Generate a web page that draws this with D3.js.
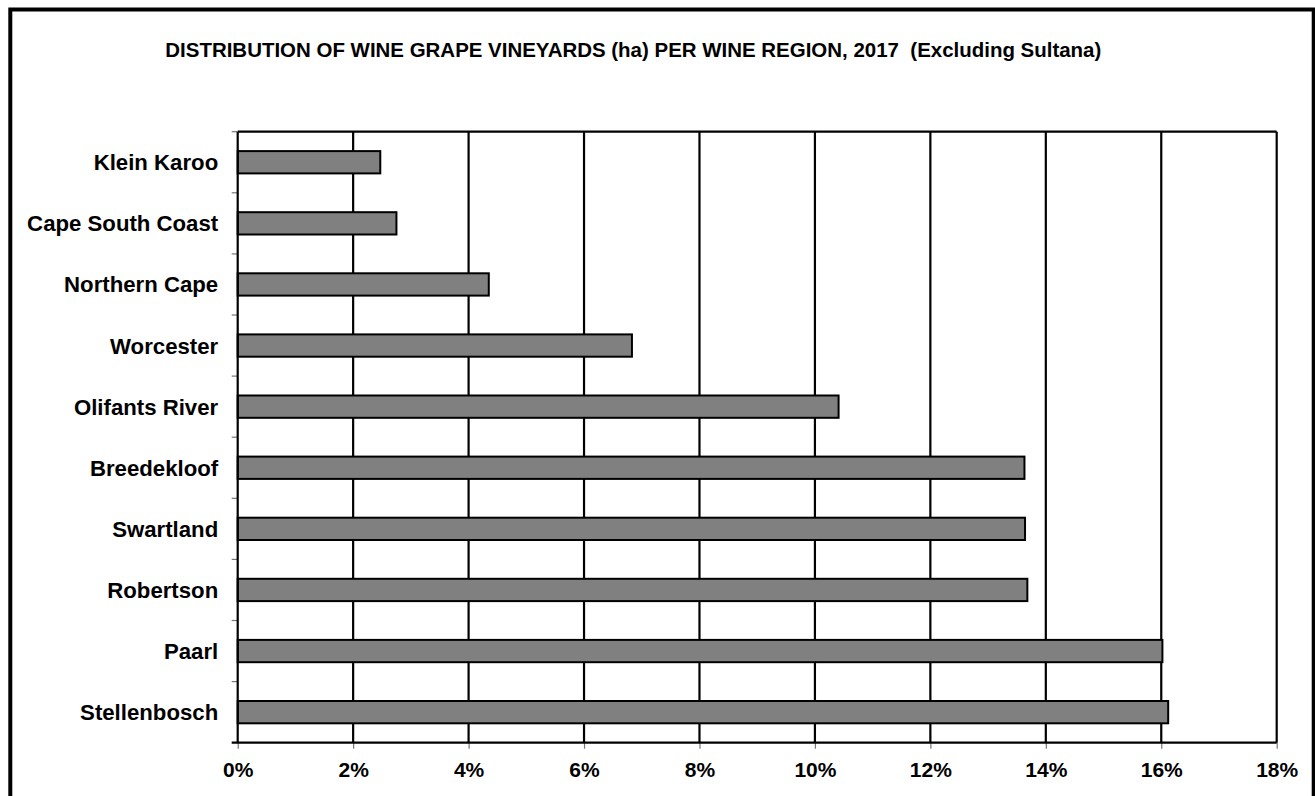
<!DOCTYPE html>
<html>
<head>
<meta charset="utf-8">
<script src="https://cdn.jsdelivr.net/npm/d3@7"></script>
<style>
  html, body { margin: 0; padding: 0; background: #fff; }
  svg { display: block; }
  text { font-family: "Liberation Sans", Arial, Helvetica, sans-serif; font-weight: bold; fill: #000; }
</style>
</head>
<body>
<svg id="chart" width="1315" height="796"></svg>
<script>
const titleText = "DISTRIBUTION OF WINE GRAPE VINEYARDS (ha) PER WINE REGION, 2017  (Excluding Sultana)";
const regions = ["Klein Karoo", "Cape South Coast", "Northern Cape", "Worcester", "Olifants River",
                 "Breedekloof", "Swartland", "Robertson", "Paarl", "Stellenbosch"];
const shares = [2.47, 2.75, 4.35, 6.83, 10.41, 13.63, 13.64, 13.68, 16.02, 16.12];
const xTicks = [0, 2, 4, 6, 8, 10, 12, 14, 16, 18];

(function () {
const svg = d3.select("#chart");
const pL = 237.7, pR = 1276.7, pT = 131.7, pB = 742.7;

// outer frame
svg.append("rect")
  .attr("x", 10.3).attr("y", 9.5)
  .attr("width", 1303.4).attr("height", 820)
  .attr("fill", "none").attr("stroke", "#000").attr("stroke-width", 4);

// title
svg.append("text")
  .attr("x", 633.3).attr("y", 56.7)
  .attr("text-anchor", "middle")
  .attr("font-size", 19.5)
  .attr("textLength", 936)
  .attr("lengthAdjust", "spacingAndGlyphs")
  .attr("xml:space", "preserve")
  .style("white-space", "pre")
  .text(titleText);

const x = d3.scaleLinear().domain([0, 18]).range([pL, pR]);
const y = d3.scaleBand().domain(regions).range([pT, pB]).paddingInner(0.635).paddingOuter(0.3175);
const yStep = d3.scaleBand().domain(regions).range([pT, pB]).padding(0);

// vertical gridlines
svg.append("g").selectAll("line")
  .data(xTicks.filter(d => d > 0 && d < 18))
  .join("line")
  .attr("x1", d => x(d)).attr("x2", d => x(d))
  .attr("y1", pT).attr("y2", pB)
  .attr("stroke", "#000").attr("stroke-width", 2.2);

// plot frame top & right
svg.append("line").attr("x1", pL).attr("x2", pR).attr("y1", pT).attr("y2", pT)
  .attr("stroke", "#000").attr("stroke-width", 2.2);
svg.append("line").attr("x1", pR).attr("x2", pR).attr("y1", pT).attr("y2", pB)
  .attr("stroke", "#000").attr("stroke-width", 2.2);

// bars
svg.append("g").selectAll("rect")
  .data(regions.map((r, i) => ({ r, v: shares[i] })))
  .join("rect")
  .attr("x", x(0))
  .attr("y", d => y(d.r))
  .attr("width", d => x(d.v) - x(0))
  .attr("height", y.bandwidth())
  .attr("fill", "#808080")
  .attr("stroke", "#000")
  .attr("stroke-width", 2);

// x axis
const xAxis = d3.axisBottom(x).tickValues(xTicks).tickFormat(d => d + "%").tickSize(6).tickPadding(14);
const gx = svg.append("g").attr("transform", `translate(0,${pB})`).call(xAxis);
gx.select(".domain").remove();
gx.selectAll(".tick line").attr("stroke", "#777").attr("stroke-width", 1.2);
gx.selectAll(".tick text").attr("font-size", 21).attr("dy", "0.68em")
  .style("font-family", '"Liberation Sans", Arial, sans-serif').style("font-weight", "bold");
svg.append("line").attr("x1", pL - 6).attr("x2", pR).attr("y1", pB).attr("y2", pB)
  .attr("stroke", "#000").attr("stroke-width", 2.2);

// y axis ticks at band boundaries
const boundaries = regions.map(r => yStep(r));
svg.append("g").selectAll("line")
  .data(boundaries)
  .join("line")
  .attr("x1", pL - 6).attr("x2", pL)
  .attr("y1", d => d).attr("y2", d => d)
  .attr("stroke", "#777").attr("stroke-width", 1.2);
svg.append("line").attr("x1", pL).attr("x2", pL).attr("y1", pT).attr("y2", pB)
  .attr("stroke", "#000").attr("stroke-width", 2.2);

// category labels
svg.append("g").selectAll("text")
  .data(regions)
  .join("text")
  .attr("x", pL - 19.5)
  .attr("y", d => y(d) + y.bandwidth() / 2)
  .attr("dy", "0.36em")
  .attr("text-anchor", "end")
  .attr("font-size", 22.2)
  .text(d => d);
})();
</script>
</body>
</html>
